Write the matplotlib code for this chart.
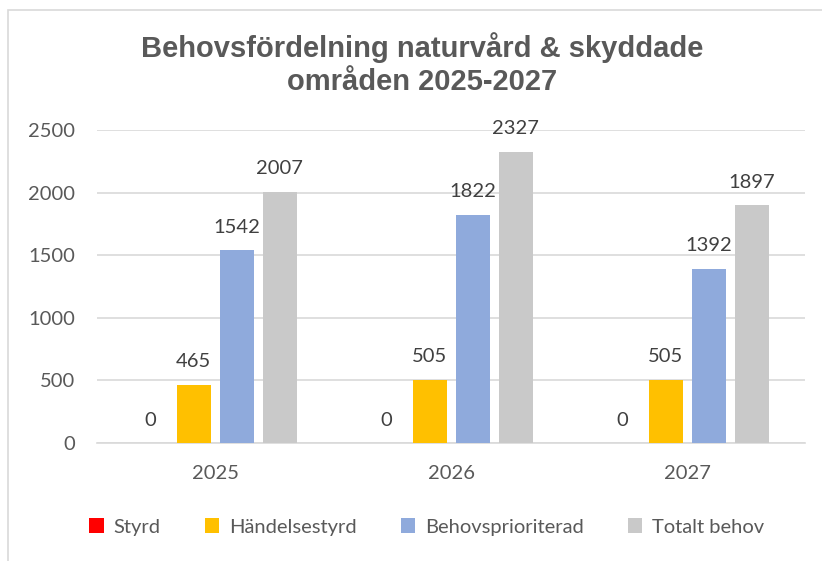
import matplotlib
matplotlib.use("Agg")
import matplotlib.pyplot as plt
import numpy as np
from matplotlib.patches import Rectangle

years = ["2025", "2026", "2027"]
series_names = ["Styrd", "Händelsestyrd", "Behovsprioriterad", "Totalt behov"]
styrd = [0, 0, 0]
handelsestyrd = [465, 505, 505]
behovsprioriterad = [1542, 1822, 1392]
totalt = [2007, 2327, 1897]
colors = ["#FF0000", "#FFC000", "#8FAADC", "#C9C9C9"]
yticks = [0, 500, 1000, 1500, 2000, 2500]

W, H = 822, 561
fig = plt.figure(figsize=(W / 100, H / 100), dpi=100)
fig.patch.set_facecolor("white")
fig.patches.append(Rectangle((8 / W, -0.05), 1.2, 1 - 10 / H + 0.05, transform=fig.transFigure,
                             fill=False, edgecolor="#D9D9D9", linewidth=1.2))

ax = fig.add_axes([97 / W, 1 - 443 / H, (805 - 97) / W, (443 - 130) / H])
textc = "#595959"
font = "Lato"
fs = 14.5

x = np.arange(len(years))
step = 43 / 236
bw = 34 / 236
data = [styrd, handelsestyrd, behovsprioriterad, totalt]
for i, (vals, c, name) in enumerate(zip(data, colors, series_names)):
    pos = x + (i - 1.5) * step
    ax.bar(pos, vals, width=bw, color=c, label=name, zorder=3)
    for p, v in zip(pos, vals):
        ax.text(p, v + 115, f"{v}", ha="center", va="bottom", fontsize=fs,
                color="#404040", family=font)

ax.set_xlim(-0.5, 2.5)
ax.set_ylim(0, 2500)
ax.set_yticks(yticks)
ax.set_yticklabels([str(t) for t in yticks], fontsize=fs, color=textc, family=font)
ax.set_xticks(x)
ax.set_xticklabels(years, fontsize=fs, color=textc, family=font)
ax.tick_params(axis="both", length=0)
ax.tick_params(axis="y", pad=16)
ax.tick_params(axis="x", pad=16)
ax.yaxis.grid(True, color="#D9D9D9", linewidth=1.2, zorder=0)
for s in ["top", "right", "left"]:
    ax.spines[s].set_visible(False)
ax.spines["bottom"].set_color("#D9D9D9")
ax.spines["bottom"].set_linewidth(1.2)

fig.text(0.514, 1 - 64 / H, "Behovsfördelning naturvård & skyddade\nområden 2025-2027",
         ha="center", va="center", fontsize=21, fontweight="bold", color=textc,
         family="Liberation Sans", linespacing=1.2)

leg = fig.legend(loc="center", bbox_to_anchor=(427 / W, 1 - 527 / H), ncol=4, frameon=False,
                 prop={"family": font, "size": fs}, handlelength=0.7, handleheight=0.7,
                 handletextpad=0.5, columnspacing=2.2)
for t in leg.get_texts():
    t.set_color(textc)

fig.savefig("out.png", dpi=100, facecolor="white")
